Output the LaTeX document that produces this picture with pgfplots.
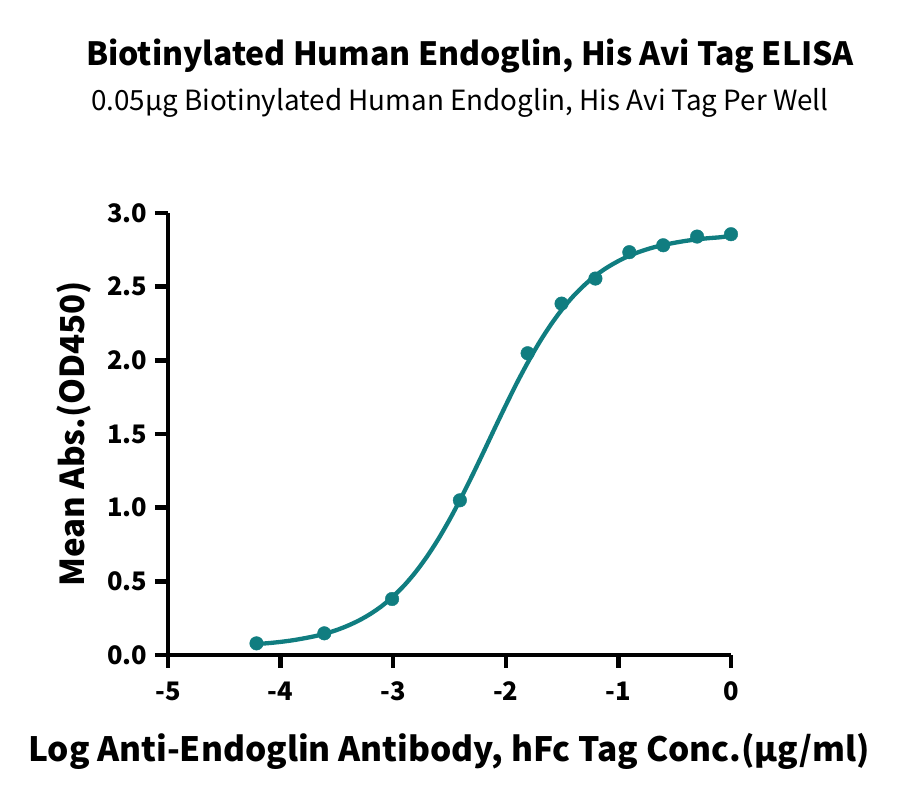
\documentclass[border=0pt]{standalone}
\usepackage{fontspec}
\setmainfont{Noto Sans CJK SC}
\usepackage{pgfplots}
\pgfplotsset{compat=1.18}
\definecolor{teal1}{RGB}{16,125,128}
\begin{document}
\begin{tikzpicture}[x=1pt,y=1pt]
\useasboundingbox (0,0) rectangle (900,802);
\begin{axis}[
  at={(168pt,147pt)}, anchor=south west,
  scale only axis, width=563pt, height=442pt,
  xmin=-5, xmax=0, ymin=0, ymax=3,
  axis lines=left, axis line style={line width=4.5pt, -},
  xtick={-5,-4,-3,-2,-1,0}, ytick={0,0.5,1,1.5,2,2.5,3},
  yticklabel style={/pgf/number format/fixed, /pgf/number format/fixed zerofill, /pgf/number format/precision=1, xshift=-4pt},
  /pgf/number format/assume math mode=true,
  tick style={line width=4.5pt, black},
  tick align=outside, major tick length=13pt,
  ticklabel style={font=\bfseries\fontsize{25.5}{28}\selectfont},
  xticklabel style={yshift=-10pt},
  clip=false,
]
\addplot[teal1, line width=4.3pt, smooth] coordinates {
(-4.2,0.075)(-4.1,0.081)(-4.0,0.089)(-3.9,0.099)(-3.8,0.112)(-3.7,0.127)
(-3.6,0.146)(-3.5,0.170)(-3.4,0.200)(-3.3,0.236)(-3.2,0.280)(-3.1,0.333)
(-3.0,0.398)(-2.9,0.474)(-2.8,0.564)(-2.7,0.668)(-2.6,0.786)(-2.5,0.918)
(-2.4,1.062)(-2.3,1.215)(-2.2,1.374)(-2.1,1.536)(-2.0,1.695)(-1.9,1.849)
(-1.8,1.992)(-1.7,2.124)(-1.6,2.242)(-1.5,2.346)(-1.4,2.436)(-1.3,2.512)
(-1.2,2.577)(-1.1,2.630)(-1.0,2.674)(-0.9,2.711)(-0.8,2.740)(-0.7,2.764)
(-0.6,2.783)(-0.5,2.798)(-0.4,2.811)(-0.3,2.821)(-0.2,2.829)(-0.1,2.835)
(0.0,2.845)};
\addplot[only marks, mark=*, mark size=6.8pt, teal1] coordinates {
(-4.214,0.079)(-3.612,0.147)(-3.010,0.380)(-2.408,1.050)(-1.806,2.048)
(-1.505,2.385)(-1.204,2.555)(-0.903,2.734)(-0.602,2.781)(-0.301,2.840)(0,2.856)};
\end{axis}
\node[anchor=base, font=\bfseries\fontsize{32}{36}\selectfont] at (470,736) {Biotinylated Human Endoglin, His Avi Tag ELISA};
\node[anchor=base, font=\fontsize{27.8}{30}\selectfont] at (460,691) {0.05μg Biotinylated Human Endoglin, His Avi Tag Per Well};
\node[anchor=base, font=\bfseries\fontsize{33.5}{36}\selectfont] at (449,40) {Log Anti-Endoglin Antibody, hFc Tag Conc.(μg/ml)};
\node[anchor=base, rotate=90, font=\bfseries\fontsize{33}{36}\selectfont] at (84,368) {Mean Abs.(OD450)};
\end{tikzpicture}
\end{document}
